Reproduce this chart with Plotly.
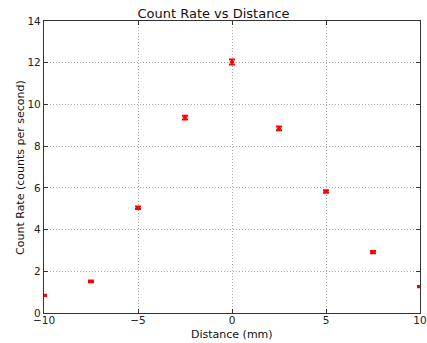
import plotly.graph_objects as go

distance = [-10, -7.5, -5, -2.5, 0, 2.5, 5, 7.5, 10]
count_rate = [0.85, 1.52, 5.05, 9.37, 12.03, 8.85, 5.82, 2.92, 1.27]
rate_err = [0.03, 0.04, 0.06, 0.09, 0.12, 0.09, 0.06, 0.05, 0.03]

fig = go.Figure()
fig.add_trace(go.Scatter(
    x=distance, y=count_rate, mode="markers",
    marker=dict(color="red", size=3, symbol="line-ew", line=dict(color="red", width=2)),
    error_y=dict(type="data", array=rate_err, visible=True, color="red", thickness=2, width=3),
    showlegend=False,
))

axis_common = dict(
    showline=True, linecolor="#333", linewidth=1.2, mirror="allticks",
    ticks="inside", ticklen=4, tickcolor="#333",
    showgrid=True, gridcolor="#aaa", griddash="1px,2px", gridwidth=1,
    zeroline=False, automargin=False,
    tickfont=dict(family="DejaVu Sans", size=10.5, color="#222"),
)

title_font = dict(family="DejaVu Sans", size=11, color="#111")

fig.update_layout(
    width=427, height=343,
    margin=dict(l=44, r=7, t=21, b=30),
    paper_bgcolor="white", plot_bgcolor="white",
    title=dict(text="Count Rate vs Distance", x=0.5, xanchor="center", y=0.962, yanchor="middle",
               font=dict(family="DejaVu Sans", size=13, color="#111")),
    xaxis=dict(range=[-10, 10], tickvals=[-10, -5, 0, 5, 10], ticklabelstandoff=-3, **axis_common),
    yaxis=dict(range=[0, 14], tickvals=[0, 2, 4, 6, 8, 10, 12, 14], **axis_common),
    annotations=[
        dict(text="Distance (mm)", xref="paper", yref="paper", x=0.5, y=-0.072,
             xanchor="center", yanchor="middle", showarrow=False, font=title_font),
        dict(text="Count Rate (counts per second)", xref="paper", yref="paper", x=-0.064, y=0.5,
             xanchor="center", yanchor="middle", textangle=-90, showarrow=False, font=title_font),
    ],
)

fig.write_html("out.html")
